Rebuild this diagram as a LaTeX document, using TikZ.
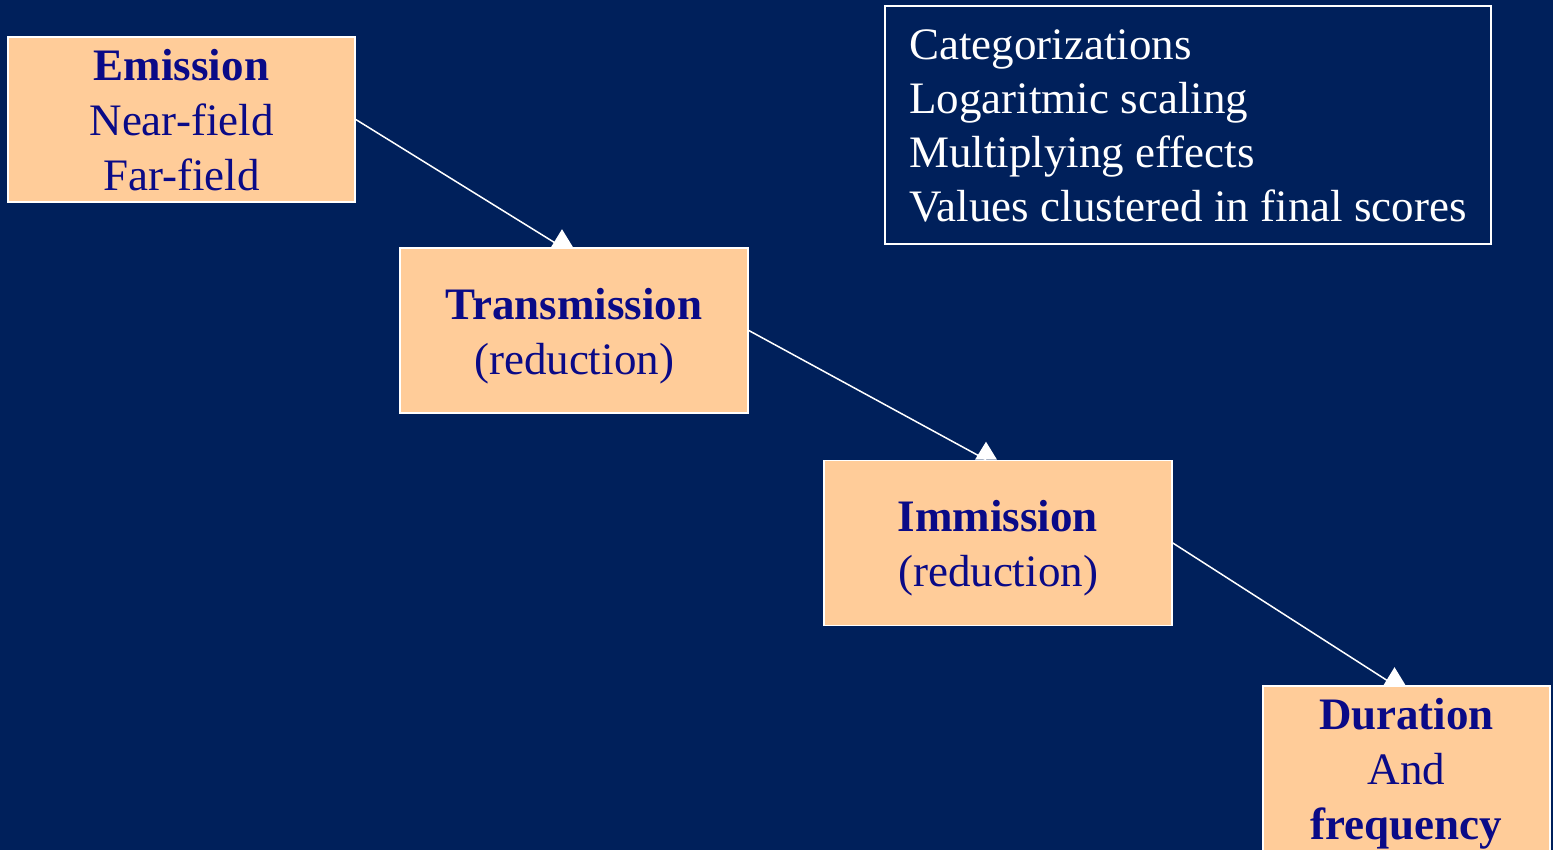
\documentclass[tikz,border=0pt]{standalone}
\usepackage{fontspec}
\setmainfont{Liberation Serif}
\usepackage{xcolor}
\usetikzlibrary{calc,positioning}
\definecolor{navybg}{RGB}{0,32,91}
\definecolor{peach}{RGB}{255,204,153}
\definecolor{inkblue}{RGB}{10,10,135}
\newcommand{\bstrut}{\rule[-11pt]{0pt}{54pt}}

\begin{document}
\begin{tikzpicture}[x=1pt,y=-1pt,
	stage/.style={draw=white,line width=1.6pt,fill=peach,text=inkblue,inner sep=0pt,minimum height=165pt,align=center,font=\fontsize{45}{53}\selectfont},
	link/.style={white,line width=1.5pt}]
		\fill[navybg] (0,0) rectangle (1553,850);
		\clip (0,0) rectangle (1553,850);
		% the four stages
		\node[stage,minimum width=347pt] (emission) at (181.5,119.5) {\bstrut\textbf{Emission}\\\bstrut Near-field\\\bstrut Far-field};
		\node[stage,minimum width=348pt] (transmission) at (574,330.5) {\bstrut\textbf{Transmission}\\\bstrut(reduction)};
		\node[stage,minimum width=348pt] (immission) at (998,543) {\bstrut\textbf{Immission}\\\bstrut(reduction)};
		\node[stage,minimum width=287pt] (duration) at (1406.5,768.5) {\bstrut\textbf{Duration}\\\bstrut And\\\bstrut\textbf{frequency}};
		% notes
		\node[draw=white,line width=1.6pt,text=white,align=left,inner xsep=20pt,inner ysep=0pt,minimum width=606pt,minimum height=238pt,font=\fontsize{45}{54}\selectfont] (notes) at (1188,125) {\bstrut Categorizations\\\bstrut Logaritmic scaling\\\bstrut Multiplying effects\\\bstrut Values clustered in final scores};
		% connectors
		\foreach \from/\to in {emission/transmission,transmission/immission,immission/duration}{
			\coordinate (\to-in) at ($(\to.north)+(-12,0)$);
			\draw[link] (\from.east) -- (\to-in);
			\fill[white] (\to-in) ++(-11,0) -- ++(22,0) -- ++(-11,-18) -- cycle;
		}
	\end{tikzpicture}
\end{document}
